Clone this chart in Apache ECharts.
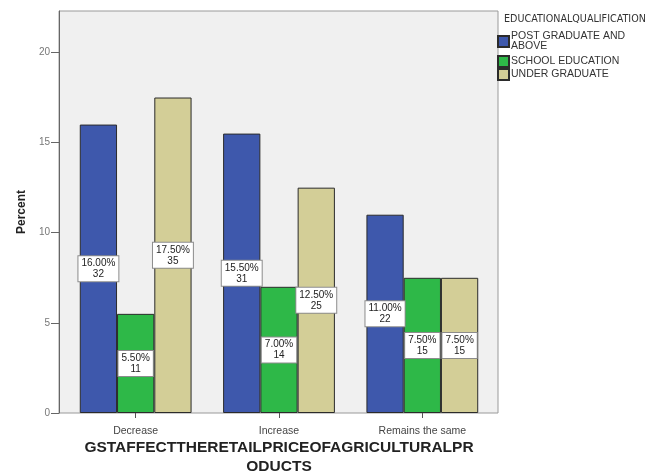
<!DOCTYPE html>
<html>
<head>
<meta charset="utf-8">
<script src="https://cdn.jsdelivr.net/npm/echarts@6/dist/echarts.min.js"></script>
<style>
  html, body { margin: 0; padding: 0; background: #ffffff; }
  #chart { width: 649px; height: 473px; }
</style>
</head>
<body>
<div id="chart"></div>
<script>
// Responses grouped by educational qualification (N = 200)
const categories = ['Decrease', 'Increase', 'Remains the same'];
const seriesNames = ['POST GRADUATE AND ABOVE', 'SCHOOL EDUCATION', 'UNDER GRADUATE'];
const postGradPct = [16.0, 15.5, 11.0];
const postGradCount = [32, 31, 22];
const schoolPct = [5.5, 7.0, 7.5];
const schoolCount = [11, 14, 15];
const underGradPct = [17.5, 12.5, 7.5];
const underGradCount = [35, 25, 15];
const yTicks = [0, 5, 10, 15, 20];

const colors = ['#3e58ac', '#2eb848', '#d3ce97'];
const FONT = '"Liberation Sans", Arial, sans-serif';

const yMin = 0, yMax = 22.3, yStep = yTicks[1] - yTicks[0];

function makeSeries(name, pct, counts, color) {
  return {
    name: name,
    type: 'bar',
    xAxisIndex: 1,
    yAxisIndex: 1,
    data: pct,
    barGap: '0%',
    barCategoryGap: '22%',
    itemStyle: { color: color, borderColor: '#2b2b2b', borderWidth: 1 },
    label: {
      show: true,
      position: 'inside',
      formatter: p => pct[p.dataIndex].toFixed(2) + '%\n' + counts[p.dataIndex],
      fontFamily: FONT,
      fontSize: 10,
      lineHeight: 11,
      color: '#222',
      backgroundColor: '#ffffff',
      borderColor: '#8c8c8c',
      borderWidth: 1,
      padding: [2, 3, 1, 3],
      align: 'center'
    },
    emphasis: { disabled: true }
  };
}

const legendBase = {
  orient: 'vertical',
  left: 497,
  padding: 0,
  icon: 'rect',
  itemWidth: 11,
  itemHeight: 11,
  itemGap: 0,
  formatter: name => name === 'POST GRADUATE AND ABOVE' ? 'POST GRADUATE AND\nABOVE' : name,
  textStyle: { fontFamily: FONT, fontSize: 10.5, lineHeight: 10, color: '#333', padding: [0, 0, 0, -3] }
};

const chart = echarts.init(document.getElementById('chart'), null, { renderer: 'canvas' });

chart.setOption({
  animation: false,
  backgroundColor: '#ffffff',
  title: {
    text: 'EDUCATIONALQUALIFICATION',
    left: 504,
    top: 14,
    padding: 0,
    textStyle: { fontFamily: '"DejaVu Sans", sans-serif', fontSize: 9.6, fontWeight: 'normal', color: '#333' }
  },
  legend: [
    Object.assign({}, legendBase, { top: 31, data: [seriesNames[0]] }),
    Object.assign({}, legendBase, { top: 55, data: [seriesNames[1], seriesNames[2]] })
  ],
  grid: [
    { left: 59, top: 11, width: 439, height: 402, outerBoundsMode: 'none', containLabel: false, show: true, backgroundColor: '#f0f0f0', borderColor: '#9a9a9a', borderWidth: 1 },
    { left: 64, top: 11, width: 430, height: 402, outerBoundsMode: 'none', containLabel: false }
  ],
  xAxis: [
    { gridIndex: 0, type: 'category', data: categories, show: false },
    {
      gridIndex: 1,
      type: 'category',
      data: categories,
      axisLine: { show: false },
      axisTick: { show: true, alignWithLabel: true, length: 5, lineStyle: { color: '#555' } },
      axisLabel: { margin: 13, fontFamily: FONT, fontSize: 10.5, color: '#444' },
      name: 'GSTAFFECTTHERETAILPRICEOFAGRICULTURALPR\nODUCTS',
      nameLocation: 'middle',
      nameGap: 25,
      nameMoveOverlap: false,
      nameTextStyle: { fontFamily: FONT, fontSize: 15.5, fontWeight: 'bold', color: '#222', lineHeight: 19 }
    }
  ],
  yAxis: [
    {
      gridIndex: 0,
      type: 'value',
      min: yMin,
      max: yMax,
      interval: yStep,
      axisLine: { show: true, lineStyle: { color: '#666' } },
      axisTick: { show: true, length: 8, lineStyle: { color: '#666' } },
      axisLabel: { showMaxLabel: false, margin: 9, fontFamily: FONT, fontSize: 10, color: '#777' },
      splitLine: { show: false },
      name: 'Percent',
      nameLocation: 'middle',
      nameGap: 31,
      nameMoveOverlap: false,
      nameTextStyle: { fontFamily: FONT, fontSize: 12, fontWeight: 'bold', color: '#222' }
    },
    { gridIndex: 1, type: 'value', min: yMin, max: yMax, interval: yStep, show: false }
  ],
  series: [
    makeSeries(seriesNames[0], postGradPct, postGradCount, colors[0]),
    makeSeries(seriesNames[1], schoolPct, schoolCount, colors[1]),
    makeSeries(seriesNames[2], underGradPct, underGradCount, colors[2])
  ]
});
</script>
</body>
</html>
